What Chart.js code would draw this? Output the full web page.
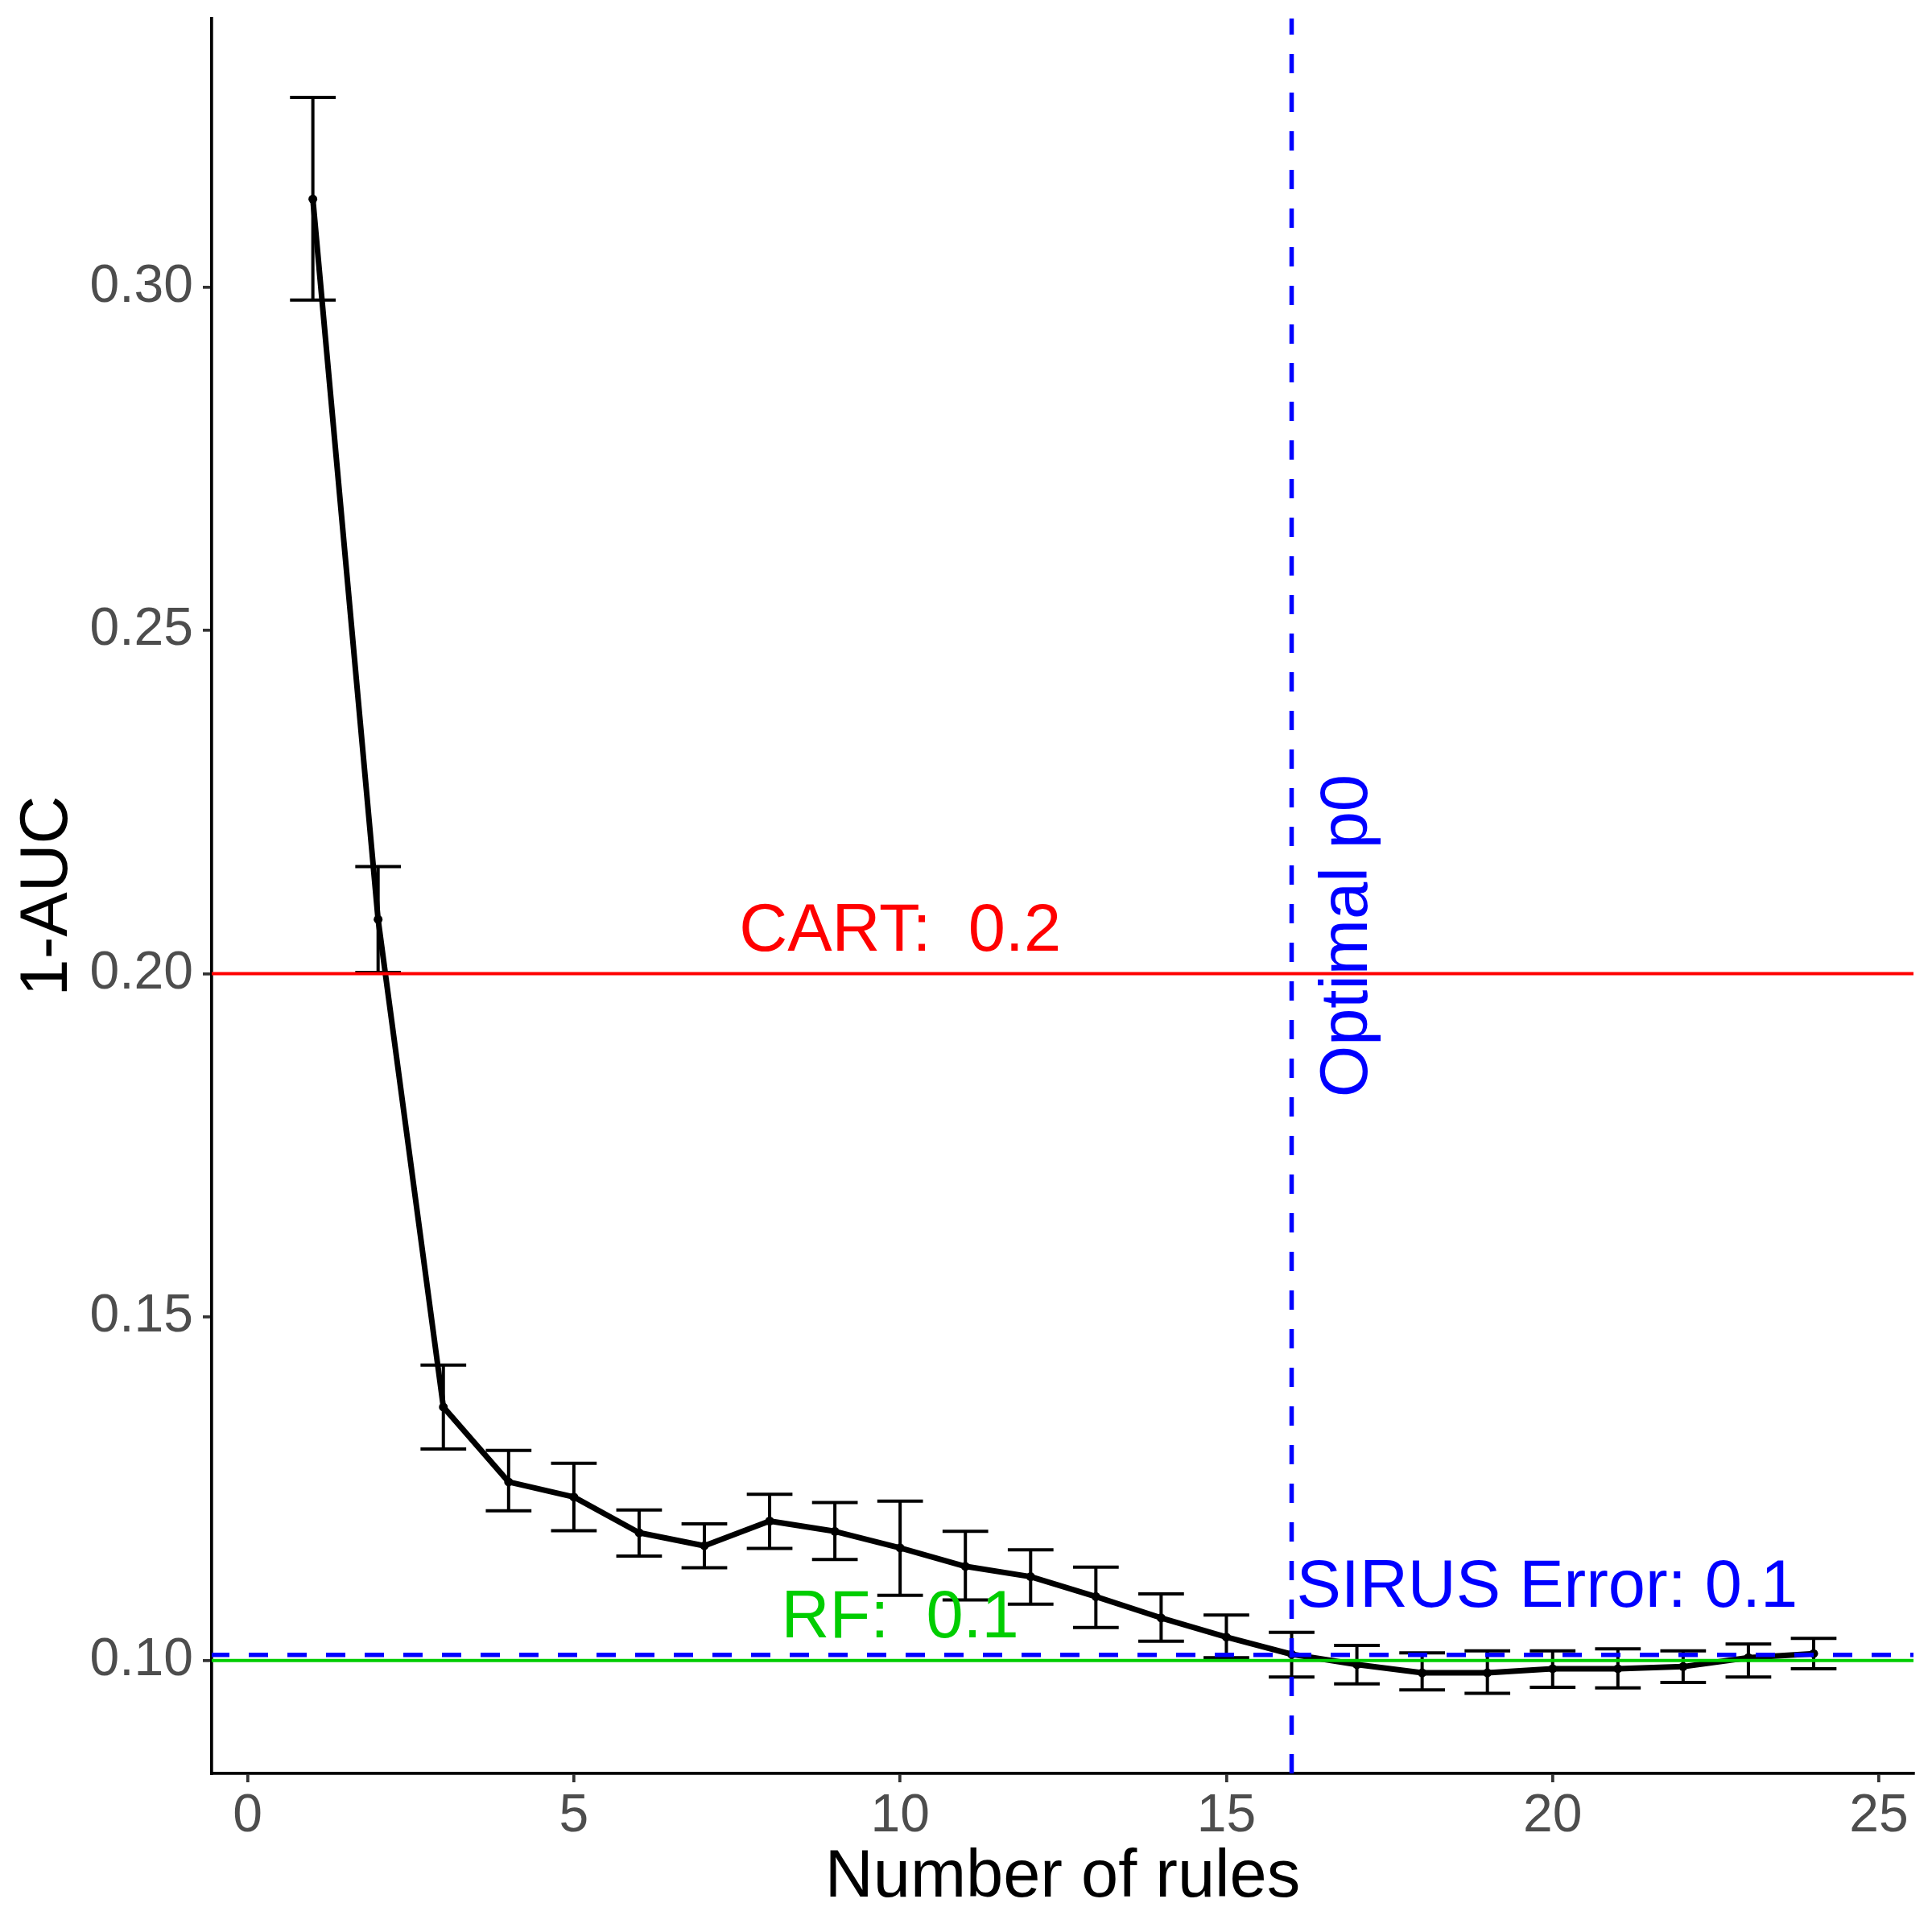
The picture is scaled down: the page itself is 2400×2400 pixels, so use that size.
<!DOCTYPE html>
<html>
<head>
<meta charset="utf-8">
<script src="https://cdn.jsdelivr.net/npm/chart.js@4/dist/chart.umd.min.js"></script>
<style>
html,body{margin:0;padding:0;background:#ffffff;}
#wrap{width:2400px;height:2400px;}
</style>
</head>
<body>
<div id="wrap"><canvas id="c" width="2400" height="2400"></canvas></div>
<script>
// ---- data ----
const rules = [1,2,3,4,5,6,7,8,9,10,11,12,13,14,15,16,17,18,19,20,21,22,23,24];
const errMean  = [0.3128,0.2079,0.1369,0.1260,0.1238,0.1186,0.1167,0.1203,0.1188,0.1164,0.1137,0.1122,0.1093,0.1062,0.1034,0.1009,0.0994,0.0982,0.0982,0.0988,0.0988,0.0991,0.1004,0.1010];
const errUpper = [0.3276,0.2156,0.1430,0.1306,0.1287,0.1219,0.1199,0.1242,0.1230,0.1232,0.1188,0.1161,0.1136,0.1097,0.1066,0.1041,0.1022,0.1011,0.1014,0.1014,0.1017,0.1014,0.1024,0.1032];
const errLower = [0.2981,0.2002,0.1308,0.1218,0.1189,0.1152,0.1135,0.1163,0.1147,0.1095,0.1088,0.1082,0.1048,0.1028,0.1004,0.0976,0.0966,0.0957,0.0952,0.0961,0.0960,0.0968,0.0976,0.0988];
const xTicks = [0,5,10,15,20,25];
const xTickLabels = ['0','5','10','15','20','25'];
const yTicks = [0.10,0.15,0.20,0.25,0.30];
const yTickLabels = ['0.10','0.15','0.20','0.25','0.30'];
const cartError = 0.2;
const rfError = 0.1;
const sirusError = 0.1008;
const optimalRules = 16;
const labelX = 10;
const optimalLabelY = 0.2055;
const cartText = 'CART:  0.2';
const rfText = 'RF:  0.1';
const sirusText = 'SIRUS Error: 0.1';
const optimalText = 'Optimal p0';
const xTitle = 'Number of rules';
const yTitle = '1-AUC';

// ---- styles ----
const FONT = "'Liberation Sans', Arial, Helvetica, sans-serif";
const ANNOT_PX = 83;
const CAP_WIDTH = 0.7; // errorbar cap width, in x units

const errorBarPlugin = {
  id: 'errorBars',
  afterDatasetsDraw(chart) {
    const {ctx, scales: {x, y}} = chart;
    const half = (x.getPixelForValue(CAP_WIDTH) - x.getPixelForValue(0)) / 2;
    ctx.save();
    ctx.strokeStyle = '#000000';
    ctx.lineWidth = 4;
    ctx.lineCap = 'butt';
    rules.forEach((r, i) => {
      const px = x.getPixelForValue(r);
      const t = y.getPixelForValue(errUpper[i]);
      const b = y.getPixelForValue(errLower[i]);
      ctx.beginPath();
      ctx.moveTo(px, t); ctx.lineTo(px, b);
      ctx.moveTo(px - half, t); ctx.lineTo(px + half, t);
      ctx.moveTo(px - half, b); ctx.lineTo(px + half, b);
      ctx.stroke();
    });
    ctx.restore();
  }
};

const refPlugin = {
  id: 'refLines',
  afterDatasetsDraw(chart) {
    const {ctx, chartArea: a, scales: {x, y}} = chart;
    ctx.save();
    ctx.beginPath();
    ctx.rect(a.left, a.top, a.right - a.left, a.bottom - a.top);
    ctx.clip();
    ctx.lineWidth = 4;
    ctx.strokeStyle = '#FF0000';
    let py = y.getPixelForValue(cartError);
    ctx.beginPath(); ctx.moveTo(a.left, py); ctx.lineTo(a.right, py); ctx.stroke();
    ctx.strokeStyle = '#00CD00';
    py = y.getPixelForValue(rfError);
    ctx.beginPath(); ctx.moveTo(a.left, py); ctx.lineTo(a.right, py); ctx.stroke();
    ctx.strokeStyle = '#0000FF';
    ctx.lineWidth = 5.5;
    ctx.setLineDash([24, 24]);
    py = y.getPixelForValue(sirusError);
    ctx.beginPath(); ctx.moveTo(a.left - 2, py); ctx.lineTo(a.right, py); ctx.stroke();
    const vx = x.getPixelForValue(optimalRules);
    ctx.beginPath(); ctx.moveTo(vx, a.bottom); ctx.lineTo(vx, a.top); ctx.stroke();
    ctx.setLineDash([]);
    ctx.restore();

    ctx.save();
    ctx.font = ANNOT_PX + 'px ' + FONT;
    ctx.textBaseline = 'alphabetic';
    ctx.textAlign = 'center';
    ctx.fillStyle = '#FF0000';
    ctx.fillText(cartText, x.getPixelForValue(labelX), y.getPixelForValue(cartError) - 29);
    ctx.fillStyle = '#00CD00';
    ctx.fillText(rfText, x.getPixelForValue(labelX), y.getPixelForValue(rfError) - 29);
    ctx.fillStyle = '#0000FF';
    ctx.textAlign = 'left';
    ctx.fillText(sirusText, vx + 6, y.getPixelForValue(sirusError) - 60);
    ctx.translate(vx + 93, y.getPixelForValue(optimalLabelY));
    ctx.rotate(-Math.PI / 2);
    ctx.textAlign = 'center';
    ctx.fillText(optimalText, 0, 0);
    ctx.restore();
  }
};

new Chart(document.getElementById('c'), {
  type: 'line',
  data: {
    datasets: [{
      data: rules.map((r, i) => ({x: r, y: errMean[i]})),
      borderColor: '#000000',
      backgroundColor: '#000000',
      borderWidth: 7,
      borderJoinStyle: 'round',
      borderCapStyle: 'butt',
      pointRadius: 5.5,
      pointBackgroundColor: '#000000',
      pointBorderWidth: 0,
      tension: 0,
      fill: false
    }]
  },
  options: {
    responsive: false,
    animation: false,
    devicePixelRatio: 1,
    layout: {padding: {top: 23, right: 23, left: 0, bottom: 0}},
    plugins: {legend: {display: false}, tooltip: {enabled: false}, title: {display: false}},
    scales: {
      x: {
        type: 'linear',
        min: -0.55,
        max: 25.53,
        afterBuildTicks(s) { s.ticks = xTicks.map(v => ({value: v})); },
        afterFit(s) { s.height = 197; s.paddingLeft = 0; s.paddingRight = 0; s.paddingTop = 0; s.paddingBottom = 0; },
        ticks: {
          includeBounds: false,
          autoSkip: false,
          maxRotation: 0,
          padding: 3,
          color: '#4D4D4D',
          font: {family: FONT, size: 66},
          callback: (v, i) => xTickLabels[i]
        },
        grid: {drawOnChartArea: false, drawTicks: true, tickLength: 11, color: '#333333', lineWidth: 3.7},
        border: {display: true, color: '#000000', width: 3.7},
        title: {display: true, text: xTitle, color: '#000000', font: {family: FONT, size: 83, lineHeight: 1.2}, padding: {top: 0, bottom: 17}}
      },
      y: {
        type: 'linear',
        min: 0.08355,
        max: 0.3391,
        afterBuildTicks(s) { s.ticks = yTicks.map(v => ({value: v})); },
        afterFit(s) { s.width = 263; s.paddingLeft = 0; s.paddingRight = 0; s.paddingTop = 0; s.paddingBottom = 0; },
        ticks: {
          includeBounds: false,
          autoSkip: false,
          padding: 12,
          color: '#4D4D4D',
          font: {family: FONT, size: 66},
          callback: (v, i) => yTickLabels[i]
        },
        grid: {drawOnChartArea: false, drawTicks: true, tickLength: 11, color: '#333333', lineWidth: 3.7},
        border: {display: true, color: '#000000', width: 3.7},
        title: {display: true, text: yTitle, color: '#000000', font: {family: FONT, size: 83, lineHeight: 1.2}, padding: {top: 10, bottom: 0}}
      }
    }
  },
  plugins: [errorBarPlugin, refPlugin]
});
</script>
</body>
</html>
